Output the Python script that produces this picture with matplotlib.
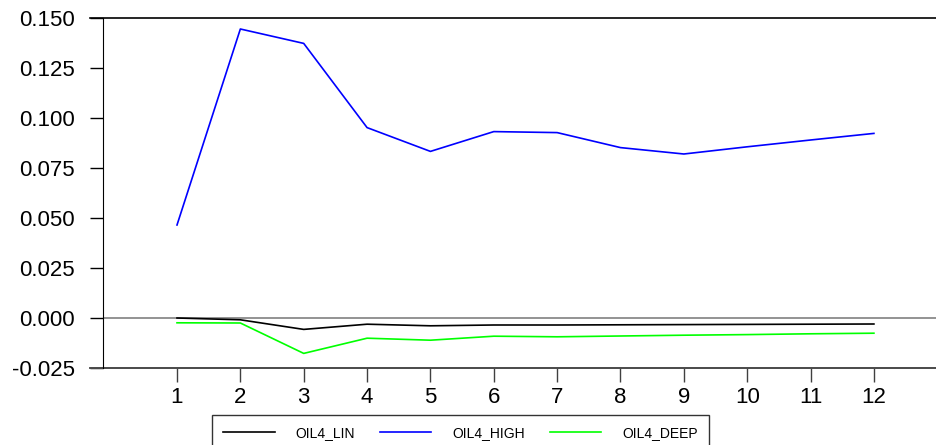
import matplotlib
matplotlib.use('Agg')
import matplotlib.pyplot as plt
from matplotlib.lines import Line2D

periods = list(range(1, 13))
oil4_lin = [0.0000, -0.0009, -0.0057, -0.0031, -0.0039, -0.0035,
            -0.0035, -0.0034, -0.0033, -0.0032, -0.0031, -0.0030]
oil4_high = [0.0465, 0.1445, 0.1373, 0.0952, 0.0833, 0.0932,
             0.0927, 0.0852, 0.0820, 0.0856, 0.0890, 0.0923]
oil4_deep = [-0.0024, -0.0025, -0.0177, -0.0101, -0.0111, -0.0091,
             -0.0094, -0.0090, -0.0086, -0.0083, -0.0079, -0.0076]
y_ticks = [-0.025, 0.000, 0.025, 0.050, 0.075, 0.100, 0.125, 0.150]

plt.rcParams['font.family'] = ['Liberation Sans', 'DejaVu Sans']

fig = plt.figure(figsize=(9.36, 4.45), dpi=100)
ax = fig.add_axes([103 / 936, 1 - 368 / 445, 833 / 936, 350 / 445])

ax.axhline(0, color='#808080', lw=1.2, zorder=1)
ax.add_line(Line2D([-13 / 833, 1], [0, 0], transform=ax.transAxes,
                   color='#808080', lw=1.2, clip_on=False))
ax.plot(periods, oil4_lin, color='black', lw=1.2, label='OIL4_LIN')
ax.plot(periods, oil4_high, color='#0000ff', lw=1.2, label='OIL4_HIGH')
ax.plot(periods, oil4_deep, color='#00ff00', lw=1.2, label='OIL4_DEEP')

ax.set_xlim(-0.168, 12.98)
ax.set_ylim(-0.025, 0.150)
ax.set_xticks(periods)
ax.set_yticks(y_ticks)
ax.set_yticklabels([f'{v:.3f}' for v in y_ticks])

ax.spines['right'].set_visible(False)
ax.spines['bottom'].set_visible(False)
ax.spines['top'].set_visible(False)
ax.spines['left'].set_color('black')
# top and bottom rules run out to the tick ends
ax.add_line(Line2D([-13 / 833, 1], [1, 1], transform=ax.transAxes,
                   color='black', lw=1.2, clip_on=False))
ax.add_line(Line2D([-13 / 833, 1], [0, 0], transform=ax.transAxes,
                   color='#404040', lw=1.2, clip_on=False))

ax.tick_params(axis='y', direction='out', length=9.4, width=1, labelsize=16, pad=11)
ax.tick_params(axis='x', direction='out', length=10, width=1, color='#404040',
               labelsize=16, pad=4)

leg = fig.legend(loc='upper center', bbox_to_anchor=(0.492, 1 - 415 / 445), ncol=3,
                 fontsize=10, handlelength=3.7, handletextpad=1.5, columnspacing=1.8,
                 frameon=True, fancybox=False, edgecolor='black', borderaxespad=0,
                 borderpad=0.8)
leg.get_frame().set_linewidth(1.0)

fig.savefig('out.png', dpi=100)
